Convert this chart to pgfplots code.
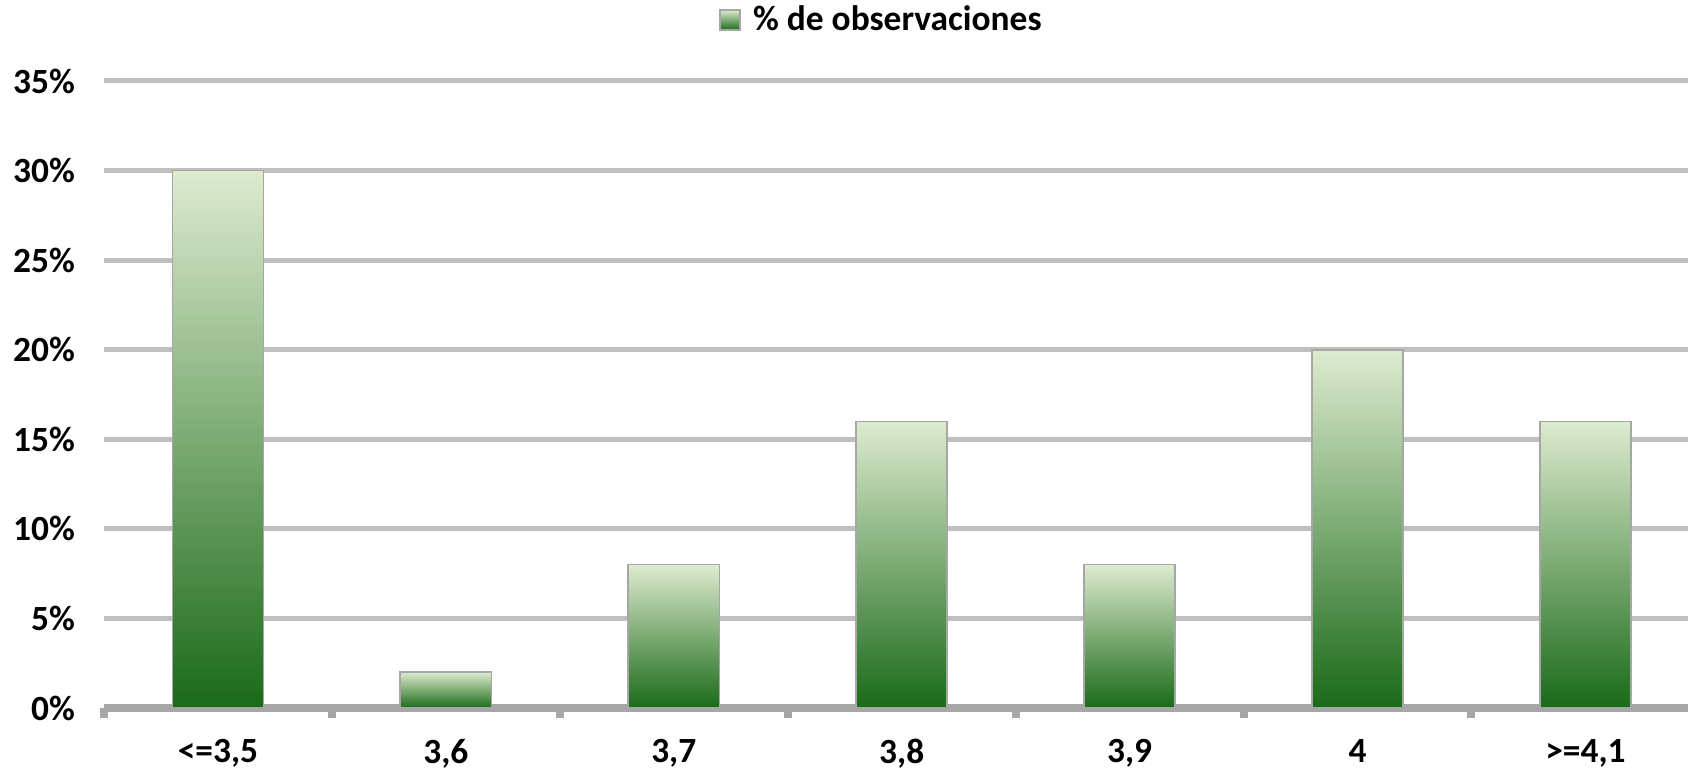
\documentclass[border=0pt]{standalone}
\usepackage{fontspec}
\setmainfont{Carlito}
\usepackage{pgfplots}
\pgfplotsset{compat=1.18}
\definecolor{gridgray}{RGB}{191,191,191}
\definecolor{axgray}{RGB}{166,166,166}
\definecolor{barlt}{RGB}{221,235,207}
\definecolor{barmid}{RGB}{157,185,100}
\definecolor{bardk}{RGB}{26,106,24}
\pgfplotsset{mybar/.style={ybar, bar width=0.4, bar shift=0pt, draw=axgray, line width=0.8pt,
    top color=barlt, middle color=barmid, bottom color=bardk, mark=none}}
\begin{document}
\begin{tikzpicture}
\begin{axis}[
  scale only axis,
  width=792pt, height=313.5pt,
  xmin=-0.5, xmax=6.45,
  ymin=0, ymax=35,
  axis x line*=bottom, axis y line*=left,
  y axis line style={draw=none},
  x axis line style={draw=axgray, line width=4pt},
  xtick={0,...,6},
  xticklabels={{<=3,5},{3,6},{3,7},{3,8},{3,9},{4},{>=4,1}},
  minor xtick={-0.5,0.5,...,6.5},
  major tick length=0pt,
  minor tick length=5pt,
  tick align=outside,
  minor x tick style={draw=axgray, line width=4pt},
  ytick={0,5,...,35},
  yticklabel={\pgfmathprintnumber{\tick}\%},
  /pgf/number format/assume math mode=true,
  ymajorgrids,
  major grid style={draw=gridgray, line width=2.5pt},
  ticklabel style={font=\bfseries\fontsize{17.7}{20}\selectfont, text=black},
  xticklabel style={yshift=-12pt},
  yticklabel style={xshift=-11pt},
  legend style={at={(0.4915,1.0973)}, anchor=center, draw=none, fill=none,
     font=\bfseries\fontsize{17.7}{20}\selectfont, legend columns=1},
  legend image code/.code={\path[#1] (0pt,-5pt) rectangle (10pt,5pt); \path (14pt,0pt);},
]
\addplot[mybar] coordinates {(0,30)};
\addlegendentry{\% de observaciones}
\addplot[mybar] coordinates {(1,2)};
\addplot[mybar] coordinates {(2,8)};
\addplot[mybar] coordinates {(3,16)};
\addplot[mybar] coordinates {(4,8)};
\addplot[mybar] coordinates {(5,20)};
\addplot[mybar] coordinates {(6,16)};
\end{axis}
\pgfresetboundingbox
\useasboundingbox (-52pt,-33pt) rectangle (792pt,354pt);
\end{tikzpicture}
\end{document}
